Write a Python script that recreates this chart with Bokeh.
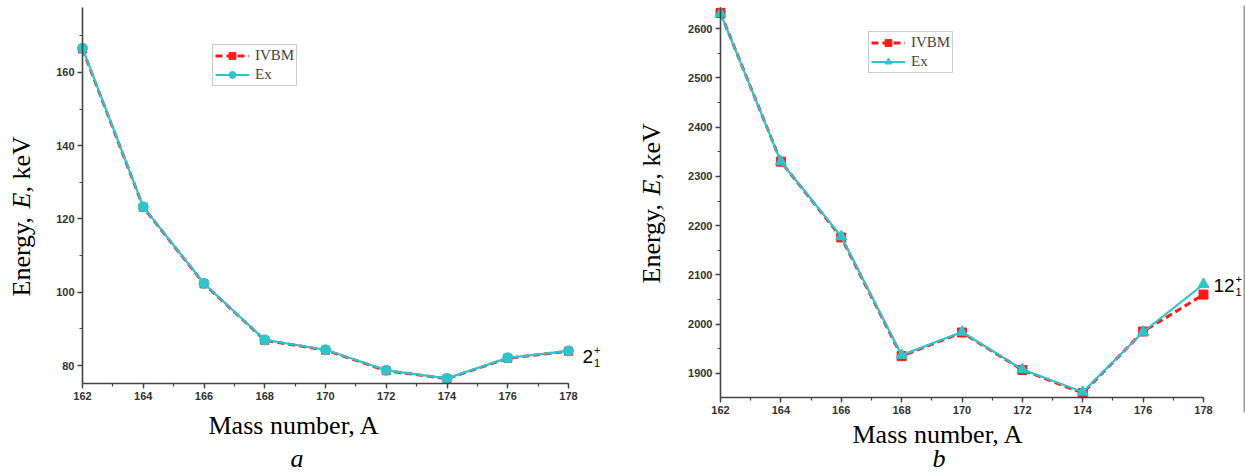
import math
from bokeh.plotting import figure
from bokeh.layouts import row
from bokeh.models import Label, Legend, LegendItem, SingleIntervalTicker, Range1d, BoxAnnotation
from bokeh.embed import file_html
from bokeh.resources import INLINE

mass = [162, 164, 166, 168, 170, 172, 174, 176, 178]
a_ivbm = [166.4, 123.2, 102.3, 86.9, 84.2, 78.6, 76.4, 82.0, 83.9]
a_ex = [166.6, 123.3, 102.4, 87.0, 84.3, 78.7, 76.5, 82.1, 84.0]
b_ivbm = [2632, 2330, 2176, 1935, 1983, 1907, 1860, 1985, 2060]
b_ex = [2631, 2330, 2178, 1937, 1984, 1908, 1862, 1984, 2081]
x_axis_span = (162, 178)
a_axis_span = (75.1, 177.7)
b_axis_span = (1851, 2643)

RED = "#ff1a1a"
CYAN = "#2fc4cc"
SERIF = "Liberation Serif"
SANS = "Liberation Sans"
H = 475
BASE_CORR = 0.32  # em shift so that given pixel is the visible baseline


def panel(width, frame_l, frame_r, frame_t, frame_b, yspan, ytick, y_ivbm, y_ex,
          ex_marker, sq_size, legend_box, state, panel_letter, ylab_pos, xlab_pos,
          letter_pos, state_pos, edge_line=None):
    xs = x_axis_span
    kx = (xs[1] - xs[0]) / (frame_r - frame_l)
    ky = (yspan[1] - yspan[0]) / (frame_b - frame_t)

    def dx(px):
        return xs[0] + (px - frame_l) * kx

    def dy(py):
        return yspan[0] + (frame_b - py) * ky

    p = figure(width=width, height=H, output_backend="svg", toolbar_location=None,
               title=None, x_range=Range1d(dx(0), dx(width)), y_range=Range1d(dy(H), dy(0)),
               min_border_left=0, min_border_right=0, min_border_top=0, min_border_bottom=0)
    p.outline_line_color = None
    p.xgrid.visible = False
    p.ygrid.visible = False
    p.xaxis.ticker = SingleIntervalTicker(interval=2, num_minor_ticks=2)
    p.yaxis.ticker = SingleIntervalTicker(interval=ytick, num_minor_ticks=2)
    p.xaxis.bounds = xs
    p.yaxis.bounds = yspan
    p.xaxis.fixed_location = yspan[0]
    p.yaxis.fixed_location = xs[0]
    for ax in (p.xaxis, p.yaxis):
        ax.axis_line_color = "#444444"
        ax.axis_line_width = 1.6
        ax.major_tick_line_color = "#444444"
        ax.minor_tick_line_color = "#444444"
        ax.major_tick_line_width = 1.4
        ax.minor_tick_line_width = 1.2
        ax.major_tick_in = 0
        ax.major_tick_out = 5
        ax.minor_tick_in = 0
        ax.minor_tick_out = 3
        ax.major_label_text_font = SANS
        ax.major_label_text_font_style = "bold"
        ax.major_label_text_font_size = "11px"
        ax.major_label_text_color = "#333333"
        ax.major_label_standoff = 3

    r1 = p.line(mass, y_ivbm, line_color=RED, line_width=3, line_dash="7 4")
    r2 = p.scatter(mass, y_ivbm, marker="square", size=sq_size, fill_color=RED, line_color=RED)
    r3 = p.line(mass, y_ex, line_color=CYAN, line_width=2.2)
    if ex_marker == "circle":
        r4 = p.scatter(mass, y_ex, marker="circle", size=10, fill_color=CYAN, line_color=CYAN)
    else:
        r4 = p.scatter(mass, y_ex, marker="triangle", size=11, fill_color=CYAN, line_color=CYAN)

    lx, ltop, lbot = legend_box
    leg = Legend(items=[LegendItem(label="IVBM", renderers=[r1, r2]),
                        LegendItem(label="Ex", renderers=[r3, r4])],
                 location=(lx, H - lbot), orientation="vertical",
                 glyph_width=34, glyph_height=17, label_height=17, spacing=2,
                 padding=2, margin=0, label_standoff=6,
                 label_text_font=SERIF, label_text_font_size="15px",
                 border_line_color="#999999", border_line_width=1,
                 background_fill_color="white", background_fill_alpha=1)
    p.add_layout(leg, "center")

    def lab(px, py, text, font=SERIF, style="normal", size=26, angle=0.0):
        c = BASE_CORR * size
        if angle:
            px -= c
        else:
            py -= c
        p.add_layout(Label(x=dx(px), y=dy(py), x_units="data", y_units="data", text=text,
                           angle=angle, text_font=font, text_font_style=style,
                           text_font_size=f"{size}px", text_color="black",
                           text_align="left", text_baseline="alphabetic"))

    # y axis title with italic E
    x0, y0 = ylab_pos
    segs = [("Energy, ", "normal", 88.1), ("E", "italic", 15.9), (", keV", "normal", 56.3)]
    yy = y0
    for t, st, w in segs:
        lab(x0, yy, t, style=st, angle=math.pi / 2)
        yy -= w
    lab(xlab_pos[0], xlab_pos[1], "Mass number, A")
    lab(letter_pos[0], letter_pos[1], panel_letter, style="italic")
    sx, sy, sw = state_pos
    lab(sx, sy, state, font=SANS, size=19)
    lab(sx + sw + 1, sy - 9, "+", font=SANS, size=11)
    lab(sx + sw + 1, sy + 4, "1", font=SANS, size=11)

    if edge_line is not None:
        ex0, ey0, ey1 = edge_line
        p.add_layout(BoxAnnotation(left=dx(ex0), right=dx(ex0 + 1.5), top=dy(ey0),
                                   bottom=dy(ey1), fill_color="#9a9a9a", fill_alpha=1,
                                   line_color=None))
    return p


pa = panel(622, 82, 568, 7, 383, a_axis_span, 20, a_ivbm, a_ex, "circle", 8,
           (212, 48, 86), "2", "a", (29, 296), (208, 433), (290, 466), (582, 362, 10.5))
OFF = 622
pb = panel(623, 720 - OFF, 1203 - OFF, 7, 397, b_axis_span, 100, b_ivbm, b_ex, "triangle", 9,
           (868 - OFF, 35, 73), "12", "b", (659 - OFF, 283), (852 - OFF, 442), (932 - OFF, 466),
           (1213 - OFF, 291, 21), edge_line=(1243 - OFF, 5, 412))

layout = row(pa, pb)
open("out.html", "w").write(file_html(layout, INLINE))
